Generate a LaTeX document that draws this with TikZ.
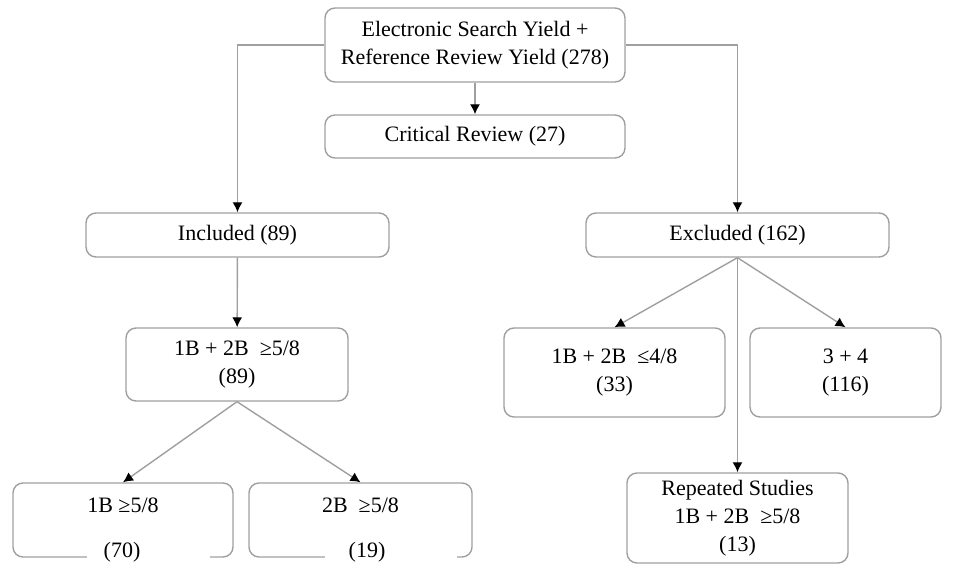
\documentclass[tikz,border=0pt]{standalone}
\usepackage{fontspec}
\setmainfont{Liberation Serif}
\usetikzlibrary{arrows.meta}

\begin{document}
\begin{tikzpicture}[x=0.5pt, y=-0.5pt,
    box/.style={draw=gray!75, line width=0.7pt, rounded corners=5pt, align=center, inner sep=0pt},
    arr/.style={draw=gray!75, line width=0.7pt},
    >={Latex[color=black,length=5pt,width=5pt]}, %Pfeilspitzen
    font=\fontsize{11}{14}\selectfont]
    % Bildbereich
    \useasboundingbox (0,0) rectangle (953,565);
    % Kaesten oben
    \node[box, minimum width=150pt, minimum height=37pt] (yield) at (475,45) {Electronic Search Yield +\\Reference Review Yield (278)};
    \node[box, minimum width=150pt, minimum height=21.5pt] (critical) at (475,136.5) {Critical Review (27)};
    \node[box, minimum width=151.5pt, minimum height=22pt] (included) at (237.5,235) {Included (89)};
    \node[box, minimum width=151.5pt, minimum height=22pt] (excluded) at (737.5,235) {Excluded (162)};
    % Kaesten Mitte
    \node[box, minimum width=111pt, minimum height=36.5pt] (both) at (237,364.5) {1B + 2B \ ≥5/8\\(89)};
    \node[box, minimum width=110.5pt, minimum height=44.5pt] (low) at (614.5,372.5) {1B + 2B \ ≤4/8\\(33)};
    \node[box, minimum width=95.5pt, minimum height=44.5pt] (thrfour) at (845.5,372.5) {3 + 4\\(116)};
    \node[box, minimum width=110.5pt, minimum height=45pt] (repeated) at (737.5,518) {Repeated Studies\\1B + 2B \ ≥5/8\\(13)};
    % Kaesten unten (unten offen)
    \node[box, minimum width=110pt, minimum height=37pt] (onebee) at (123,520) {};
    \node[box, minimum width=111.5pt, minimum height=37pt] (twobee) at (360.5,520) {};
    \fill[white] (87,551) rectangle (210,563);
    \fill[white] (325,551) rectangle (457,563);
    \node (onebeetop) at (123,505) {1B ≥5/8};
    \node (onebeenum) at (122,552) {(70)};
    \node (twobeetop) at (360.5,505) {2B \ ≥5/8};
    \node (twobeenum) at (367,552) {(19)};
    % Verbindungen
    \draw[arr,->] (yield.west) -| (included.north);
    \draw[arr,->] (yield.east) -| (excluded.north);
    \draw[arr,->] (yield) -- (critical);
    \draw[arr,->] (included) -- (both);
    \draw[arr,->] (both.south) -- (onebee.north);
    \draw[arr,->] (both.south) -- (twobee.north);
    \draw[arr,->] (excluded.south) -- (low.north);
    \draw[arr,->] (excluded.south) -- (thrfour.north);
    \draw[arr,->] (excluded.south) -- (repeated.north);
\end{tikzpicture}
\end{document}
